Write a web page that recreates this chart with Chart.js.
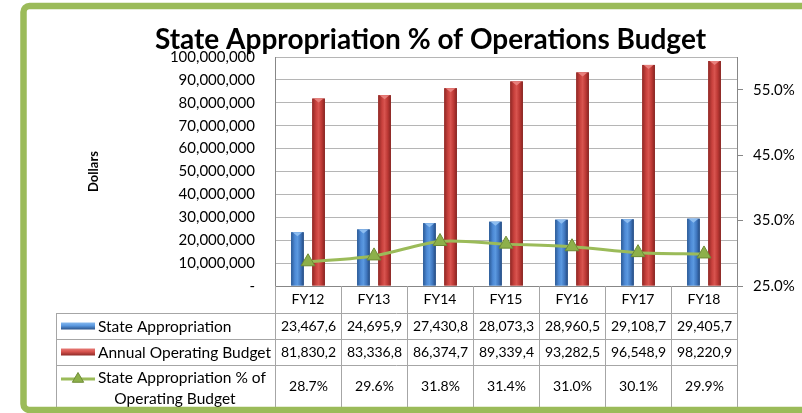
<!DOCTYPE html>
<html>
<head>
<meta charset="utf-8">
<script src="https://cdn.jsdelivr.net/npm/chart.js@4.4.1/dist/chart.umd.min.js"></script>
<style>
  html, body { margin: 0; padding: 0; background: #fff; overflow: hidden; }
  #wrap { width: 802px; height: 413px; position: relative; }
  canvas { display: block; }
</style>
</head>
<body>
<div id="wrap"><canvas id="c" width="802" height="413"></canvas></div>
<script>
// ---- data ----
const categories = ['FY12', 'FY13', 'FY14', 'FY15', 'FY16', 'FY17', 'FY18'];
const stateAppropriation = [23467600, 24695900, 27430800, 28073300, 28960500, 29108700, 29405700];
const operatingBudget = [81830200, 83336800, 86374700, 89339400, 93282500, 96548900, 98220900];
const appropriationPct = [28.7, 29.6, 31.8, 31.4, 31.0, 30.1, 29.9];
const pctTickValues = [25, 35, 45, 55];
const seriesNames = ['State Appropriation', 'Annual Operating Budget', 'State Appropriation % of Operating Budget'];
const titleText = 'State Appropriation % of Operations Budget';
const yTitleText = 'Dollars';

Chart.defaults.font.family = 'Lato, "Open Sans", sans-serif';
Chart.defaults.color = '#000';

const FONT_TICK = 15;
const FONT_TABLE = 14;
const FONT_LEGEND = 15.5;
const GRID = '#B5B5B5';
const AXIS = '#878787';
const TABLE_LINE = '#A6A6A6';
const GREEN = '#9BBB59';

const palettes = {
  blue: { stops: ['#2B5A96', '#4D8AD6', '#5B99E0', '#3F76BE', '#23497F'], cap: '#8DBDF0' },
  red:  { stops: ['#8E2724', '#C9413D', '#D8544F', '#BC3834', '#842421'], cap: '#E8807C' }
};

function fitText(ctx, text, maxW) {
  let t = text;
  while (t.length > 1 && ctx.measureText(t).width > maxW) t = t.slice(0, -1);
  return t;
}

const decorPlugin = {
  id: 'decor',
  beforeDraw(chart) {
    const ctx = chart.ctx;
    ctx.save();
    ctx.fillStyle = '#fff';
    ctx.fillRect(0, 0, chart.width, chart.height);
    ctx.restore();
  },
  afterDatasetDraw(chart, args) {
    const meta = args.meta;
    if (meta.type !== 'bar') return;
    const pal = args.index === 1 ? palettes.blue : palettes.red;
    const ctx = chart.ctx;
    ctx.save();
    meta.data.forEach(el => {
      const p = el.getProps(['x', 'y', 'base', 'width'], true);
      const l = p.x - p.width / 2;
      const g = ctx.createLinearGradient(l, 0, l + p.width, 0);
      const s = pal.stops;
      g.addColorStop(0, s[0]);
      g.addColorStop(0.3, s[1]);
      g.addColorStop(0.5, s[2]);
      g.addColorStop(0.75, s[3]);
      g.addColorStop(1, s[4]);
      ctx.fillStyle = g;
      ctx.fillRect(l, p.y, p.width, p.base - p.y);
      ctx.fillStyle = pal.cap;
      ctx.beginPath();
      ctx.moveTo(l + 1.5, p.y);
      ctx.lineTo(l + p.width - 1.5, p.y);
      ctx.lineTo(p.x, p.y + 4);
      ctx.closePath();
      ctx.fill();
    });
    ctx.restore();
  },
  afterDraw(chart) {
    const ctx = chart.ctx;
    const area = chart.chartArea;
    const xs = chart.scales.x;
    const n = categories.length;
    const colW = (area.right - area.left) / n;
    const edges = categories.map((c, i) => xs.getPixelForValue(i) - colW / 2);
    edges.push(area.right);
    const tableLeft = 56;
    const rowY = [area.bottom, area.bottom + 27, area.bottom + 53, area.bottom + 79, 407];

    ctx.save();
    ctx.strokeStyle = TABLE_LINE;
    ctx.lineWidth = 1;
    ctx.beginPath();
    edges.forEach(e => {
      const xx = Math.round(e) + 0.5;
      ctx.moveTo(xx, rowY[0]);
      ctx.lineTo(xx, rowY[4]);
    });
    ctx.moveTo(tableLeft + 0.5, rowY[1]);
    ctx.lineTo(tableLeft + 0.5, rowY[4]);
    for (let r = 1; r <= 3; r++) {
      const yy = Math.round(rowY[r]) + 0.5;
      ctx.moveTo(tableLeft, yy);
      ctx.lineTo(area.right, yy);
    }
    ctx.stroke();

    // values
    ctx.fillStyle = '#000';
    ctx.font = FONT_TABLE + 'px Lato, sans-serif';
    ctx.textAlign = 'center';
    ctx.textBaseline = 'middle';
    const rows = [
      stateAppropriation.map(v => v.toLocaleString('en-US')),
      operatingBudget.map(v => v.toLocaleString('en-US')),
      appropriationPct.map(v => v.toFixed(1) + '%')
    ];
    rows.forEach((vals, r) => {
      const cy = (rowY[r + 1] + rowY[r + 2]) / 2 + 0.5;
      vals.forEach((v, i) => {
        const t = fitText(ctx, v, colW - 4);
        ctx.fillText(t, (edges[i] + edges[i + 1]) / 2 + 0.5, cy);
      });
    });

    // legend cells
    ctx.font = FONT_LEGEND + 'px Lato, sans-serif';
    ctx.textAlign = 'left';
    const iconL = 61, iconR = 95, textX = 98;
    [palettes.blue, palettes.red].forEach((pal, r) => {
      const cy = (rowY[r + 1] + rowY[r + 2]) / 2;
      const g = ctx.createLinearGradient(0, cy - 4, 0, cy + 4);
      g.addColorStop(0, pal.cap);
      g.addColorStop(0.45, pal.stops[2]);
      g.addColorStop(1, pal.stops[4]);
      ctx.fillStyle = g;
      ctx.fillRect(iconL, cy - 3.5, iconR - iconL, 7);
      ctx.fillStyle = '#000';
      ctx.fillText(seriesNames[r], textX, cy + 0.5);
    });
    const ly = rowY[3] + 14;
    ctx.strokeStyle = GREEN;
    ctx.lineWidth = 3;
    ctx.beginPath();
    ctx.moveTo(iconL, ly);
    ctx.lineTo(iconR, ly);
    ctx.stroke();
    const tx = (iconL + iconR) / 2, tr = 6.5;
    ctx.fillStyle = '#8DB04A';
    ctx.strokeStyle = '#6E8C35';
    ctx.lineWidth = 1;
    ctx.beginPath();
    ctx.moveTo(tx, ly - tr);
    ctx.lineTo(tx + tr * 0.87, ly + tr * 0.5);
    ctx.lineTo(tx - tr * 0.87, ly + tr * 0.5);
    ctx.closePath();
    ctx.fill();
    ctx.stroke();
    ctx.fillStyle = '#000';
    const words = seriesNames[2].split(' ');
    const line1 = words.slice(0, 4).join(' ');
    const line2 = words.slice(4).join(' ');
    ctx.fillText(line1, textX, ly - 1.5);
    ctx.textAlign = 'center';
    ctx.fillText(line2, 175, ly + 19.5);

    // green frame
    ctx.strokeStyle = GREEN;
    ctx.lineWidth = 6.5;
    ctx.beginPath();
    if (ctx.roundRect) ctx.roundRect(23.5, 6, 800, 404, 6);
    else ctx.rect(23.5, 6, 800, 404);
    ctx.stroke();
    ctx.restore();
  }
};

const ctx = document.getElementById('c').getContext('2d');
new Chart(ctx, {
  data: {
    labels: categories,
    datasets: [
      {
        type: 'line',
        label: seriesNames[2],
        data: appropriationPct,
        yAxisID: 'y1',
        order: 0,
        borderColor: GREEN,
        borderWidth: 3,
        tension: 0.3,
        pointStyle: 'triangle',
        pointRadius: 8,
        pointHoverRadius: 8,
        pointBackgroundColor: '#8DB04A',
        pointBorderColor: '#6E8C35',
        pointBorderWidth: 1
      },
      {
        type: 'bar',
        label: seriesNames[0],
        data: stateAppropriation,
        yAxisID: 'y',
        order: 1,
        backgroundColor: '#4F81BD',
        categoryPercentage: 0.64,
        barPercentage: 0.6
      },
      {
        type: 'bar',
        label: seriesNames[1],
        data: operatingBudget,
        yAxisID: 'y',
        order: 1,
        backgroundColor: '#C0504D',
        categoryPercentage: 0.64,
        barPercentage: 0.6
      }
    ]
  },
  options: {
    responsive: false,
    animation: false,
    devicePixelRatio: 1,
    layout: { padding: { left: 59, right: 0, top: 0, bottom: 0 } },
    plugins: {
      legend: { display: false },
      tooltip: { enabled: false },
      title: {
        display: true,
        text: titleText,
        color: '#000',
        font: { size: 28, weight: 'bold', family: 'Lato, sans-serif', lineHeight: 1.2 },
        padding: { top: 23, bottom: 0.4 }
      }
    },
    scales: {
      x: {
        type: 'category',
        grid: { display: false, drawTicks: false },
        border: { display: true, color: AXIS, width: 1 },
        ticks: { font: { size: FONT_TABLE }, color: '#000', padding: 5.5, maxRotation: 0 },
        afterFit(s) { s.height = 127; }
      },
      y: {
        position: 'left',
        min: 0,
        max: 100000000,
        ticks: {
          stepSize: 10000000,
          font: { size: FONT_TICK },
          color: '#000',
          padding: 20,
          callback: v => v === 0 ? '-' : Number(v).toLocaleString('en-US')
        },
        grid: { color: GRID, drawTicks: false },
        border: { display: true, color: AXIS },
        title: { display: true, text: yTitleText, font: { size: 13, weight: 'bold' }, color: '#000', padding: { top: 27, bottom: 3 } },
        afterFit(s) { s.width = 216; }
      },
      y1: {
        position: 'right',
        min: 25,
        max: 60,
        afterBuildTicks(s) { s.ticks = pctTickValues.map(v => ({ value: v })); },
        ticks: {
          font: { size: FONT_TICK },
          color: '#000',
          padding: 10,
          callback: v => Number(v).toFixed(1) + '%'
        },
        grid: { drawOnChartArea: false, drawTicks: true, tickLength: 6, color: AXIS },
        border: { display: true, color: AXIS },
        afterFit(s) { s.width = 65; }
      }
    }
  },
  plugins: [decorPlugin]
});
</script>
</body>
</html>
